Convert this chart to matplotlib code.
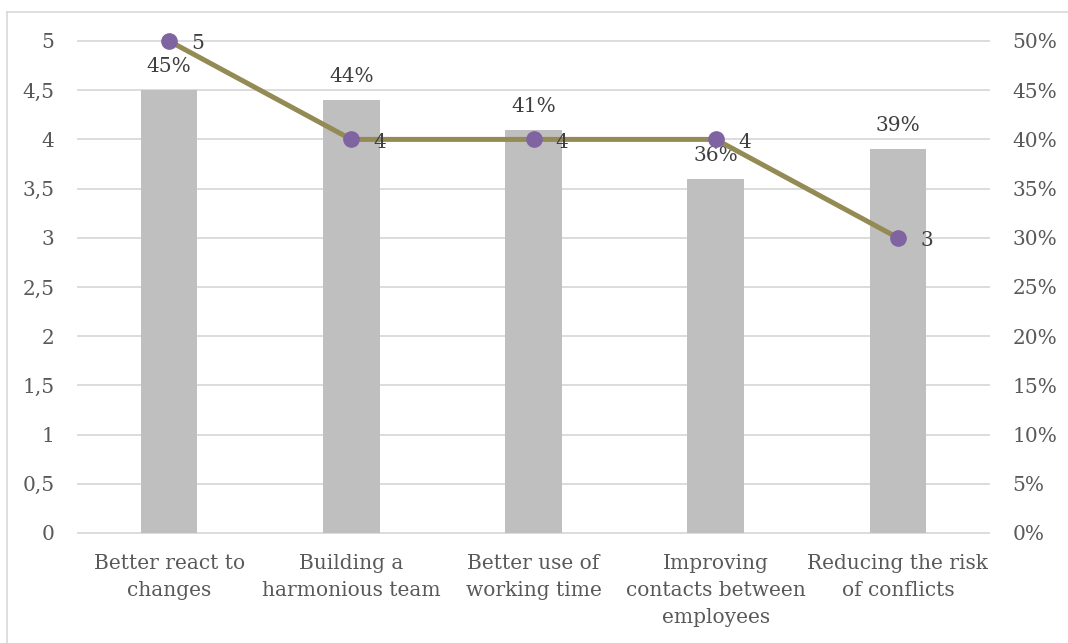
import matplotlib
matplotlib.use("Agg")
import matplotlib.pyplot as plt
from matplotlib.ticker import FuncFormatter, MultipleLocator
from matplotlib.lines import Line2D

# data
categories = [
    "Better react to\nchanges",
    "Building a\nharmonious team",
    "Better use of\nworking time",
    "Improving\ncontacts between\nemployees",
    "Reducing the risk\nof conflicts",
]
share_pct = [45, 44, 41, 36, 39]   # bars, right axis
scores = [5, 4, 4, 4, 3]           # line, left axis

plt.rcParams['font.family'] = ['DejaVu Serif']
TXT = '#595959'
LBL = '#404040'
FS = 14.5

fig = plt.figure(figsize=(10.68, 6.43), dpi=100)
ax = fig.add_axes([78 / 1068, 1 - 533 / 643, (989 - 78) / 1068, (533 - 41) / 643])
ax2 = ax.twinx()

x = list(range(len(categories)))

# bars on secondary axis (drawn below)
ax2.bar(x, share_pct, width=0.31, color='#bfbfbf', zorder=2)
ax2.set_ylim(0, 50)
ax2.yaxis.set_major_locator(MultipleLocator(5))
ax2.yaxis.set_major_formatter(FuncFormatter(lambda v, p: f"{int(v)}%"))
ax2.grid(axis='y', color='#d9d9d9', linewidth=1.3, zorder=0)
ax2.set_axisbelow(True)
for gl in ax2.get_ygridlines():
    gl.set_clip_on(False)
for xi, v in zip(x, share_pct):
    ax2.annotate(f"{v}%", (xi, v), xytext=(0, 10), textcoords='offset points',
                 ha='center', va='bottom', fontsize=FS, color=LBL)

# line on primary axis (drawn above)
ax.set_zorder(ax2.get_zorder() + 1)
ax.patch.set_visible(False)
ax.plot(x, scores, color='#948a54', linewidth=3.6, marker='o', markersize=11,
        markerfacecolor='#8064a2', markeredgecolor='#8064a2', zorder=3, clip_on=False)
for xi, v in zip(x, scores):
    ax.annotate(str(v), (xi, v), xytext=(16, -2), textcoords='offset points',
                ha='left', va='center', fontsize=FS, color=LBL)
ax.set_ylim(0, 5)
ax.set_xlim(-0.5, len(categories) - 0.5)
ax.yaxis.set_major_locator(MultipleLocator(0.5))
ax.yaxis.set_major_formatter(FuncFormatter(lambda v, p: f"{v:g}".replace('.', ',')))
ax.set_xticks(x)
ax.set_xticklabels(categories, linespacing=1.55)

for a in (ax, ax2):
    for s in a.spines.values():
        s.set_visible(False)
    a.tick_params(length=0, labelsize=FS, colors=TXT)
ax.tick_params(axis='y', pad=17)
ax2.tick_params(axis='y', pad=17)
ax.tick_params(axis='x', pad=15)

# chart border
fig.add_artist(Line2D([7 / 1068, 7 / 1068], [0, 1 - 12 / 643], transform=fig.transFigure,
                      color='#d9d9d9', linewidth=1.2))
fig.add_artist(Line2D([7 / 1068, 1], [1 - 12 / 643, 1 - 12 / 643], transform=fig.transFigure,
                      color='#d9d9d9', linewidth=1.2))

fig.savefig('out.png', dpi=100)
